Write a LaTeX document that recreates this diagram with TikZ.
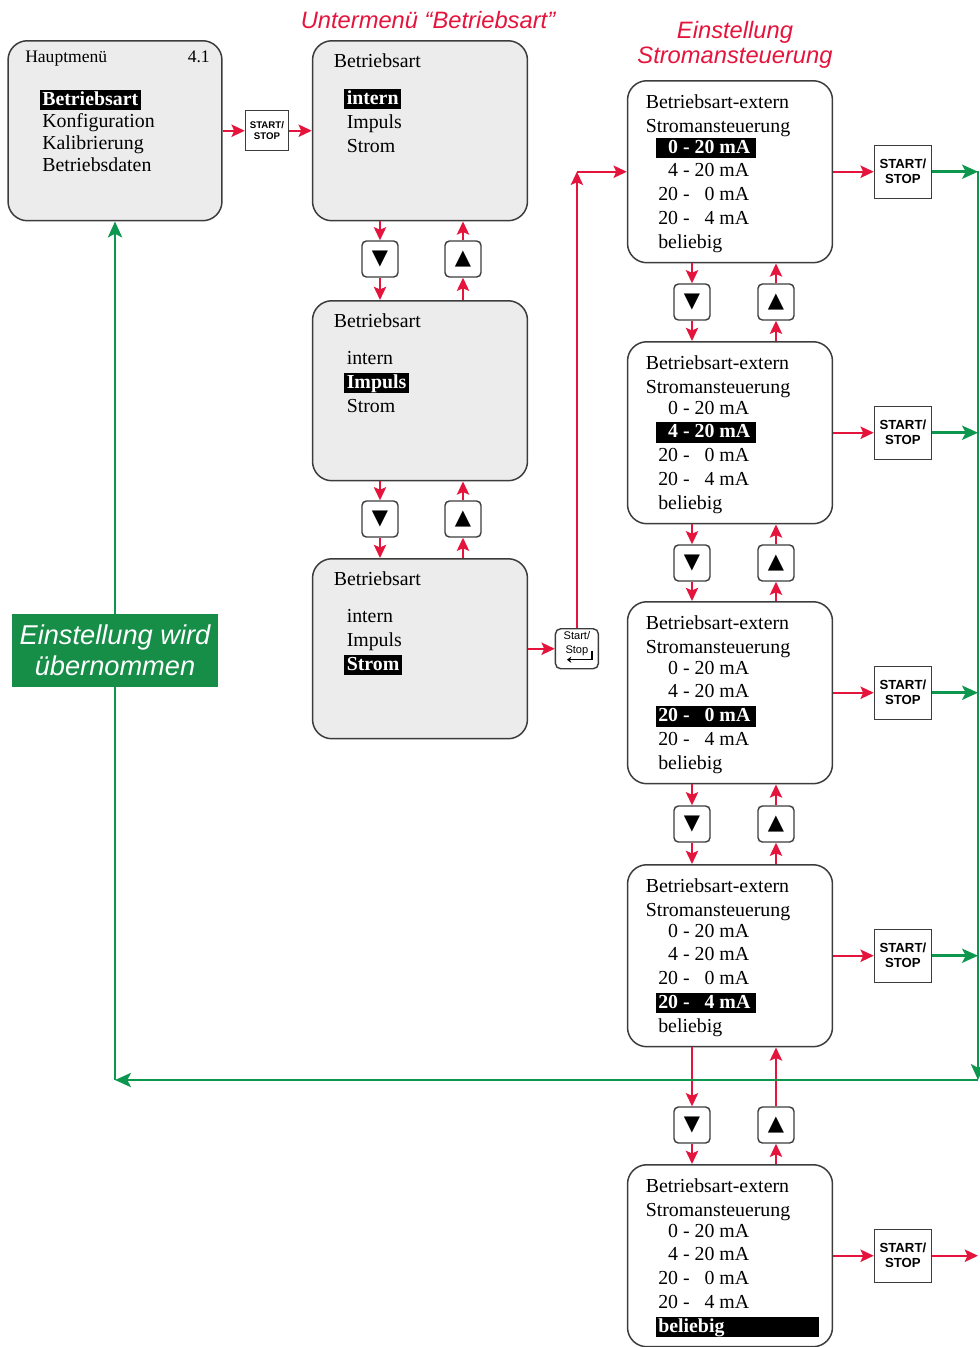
\documentclass[tikz,border=0pt]{standalone}
\usepackage{fontspec}
\setmainfont{Liberation Serif}
\setsansfont{Liberation Sans}
\newfontfamily\symfont{DejaVu Sans}
\usetikzlibrary{positioning,calc}
\usetikzlibrary{arrows.meta}
\definecolor{KeyRed}{RGB}{228,20,60}
\definecolor{OkGreen}{RGB}{12,150,78}
\definecolor{NoteGreen}{RGB}{22,142,72}
\definecolor{MenuGray}{RGB}{236,236,236}
\definecolor{EdgeGray}{RGB}{60,60,60}
\tikzset{
	menubox/.style={draw=EdgeGray,line width=0.85pt,rounded corners=11pt,fill=MenuGray,
		minimum width=4.3cm,minimum height=3.6cm,anchor=north},
	curbox/.style={menubox,fill=white,minimum width=4.1cm,minimum height=3.64cm},
	txt/.style={anchor=base west,inner xsep=1.5pt,inner ysep=0.8pt,font=\fontsize{11.3}{13}\selectfont},
	hltxt/.style={txt,fill=black,text=white,text height=8.2pt,text depth=2.3pt,inner ysep=0.6pt,
		font=\fontsize{11.3}{13}\selectfont\bfseries},
	key/.style={draw=EdgeGray,line width=0.8pt,rounded corners=2.5pt,fill=white,minimum size=0.72cm,
		inner sep=0pt,font=\symfont\fontsize{12}{12}\selectfont},
	ssbox/.style={draw=EdgeGray,line width=0.8pt,fill=white,minimum width=1.14cm,minimum height=1.06cm,
		inner sep=0pt,align=center,font=\sffamily\bfseries\fontsize{7.5}{8.5}\selectfont},
	title/.style={text=KeyRed,align=center,font=\sffamily\itshape\fontsize{13.5}{14.2}\selectfont},
	note/.style={fill=NoteGreen,text=white,align=center,minimum width=4.12cm,minimum height=1.46cm,
		inner sep=0pt,font=\sffamily\itshape\fontsize{15.5}{17.6}\selectfont},
	redarr/.style={draw=KeyRed,line width=1.2pt,-{Stealth[length=7.5pt,width=7pt,inset=1.5pt]}},
	greenarr/.style={draw=OkGreen,line width=1.6pt,-{Stealth[length=9pt,width=8pt,inset=2pt]}},
	greenline/.style={draw=OkGreen,line width=1.6pt},
}
\begin{document}
\begin{tikzpicture}[x=0.02cm,y=-0.02cm]
	\useasboundingbox (0,0) rectangle (980,1347);
	\node[title] (subtitle) at (428,20) {Untermenü “Betriebsart”};
	\node[title] (curtitle) at (735,45) {Einstellung\\Stromansteuerung};
	% Hauptmenue
	\node[menubox,minimum width=4.28cm] (main) at (115,40) {};
	\node[txt,font=\fontsize{10}{12}\selectfont] (main-h) at ($(main.north west)+(15,22)$) {Hauptmenü};
	\node[txt,anchor=base east,font=\fontsize{10}{12}\selectfont] (main-v) at ($(main.north east)+(-10,22)$) {4.1};
	\node[hltxt] (main-1) at ($(main.north west)+(32,65)$) {Betriebsart};
	\node[txt] (main-2) at ($(main.north west)+(32,87)$) {Konfiguration};
	\node[txt] (main-3) at ($(main.north west)+(32,109)$) {Kalibrierung};
	\node[txt] (main-4) at ($(main.north west)+(32,131)$) {Betriebsdaten};
	\node[ssbox,minimum width=0.86cm,minimum height=0.8cm,font=\sffamily\bfseries\fontsize{5.5}{6.2}\selectfont,
		right=0.44cm of main] (ss0) {START/\\STOP};
	% Untermenue
	\foreach \n/\top in {1/40,2/300,3/558}
		\node[menubox] (sub\n) at (420,\top) {};
	\foreach \n/\a/\b/\c in {1/hltxt/txt/txt,2/txt/hltxt/txt,3/txt/txt/hltxt} {
		\node[txt] (sub\n-h) at ($(sub\n.north west)+(19,27)$) {Betriebsart};
		\node[\a] (sub\n-1) at ($(sub\n.north west)+(32,64)$) {intern};
		\node[\b] (sub\n-2) at ($(sub\n.north west)+(32,88)$) {Impuls};
		\node[\c] (sub\n-3) at ($(sub\n.north west)+(32,112)$) {Strom};
	}
	\node[key,minimum width=0.86cm,minimum height=0.8cm,rounded corners=3pt,right=0.53cm of sub3] (enter) {};
	\node[inner sep=0pt,align=center,font=\sffamily\fontsize{6.3}{8}\selectfont] (enter-t) at ($(enter.center)+(0,-5)$) {Start/\\Stop};
	\draw[line width=0.8pt,-{Stealth[length=2.5pt,width=3.5pt]}] ($(enter.center)+(15,2)$) -- ++(0,9) -- ++(-25,0);
	% Stromansteuerung
	\foreach \n/\top in {A/80,B/341,C/601,D/864,E/1164}
		\node[curbox] (cur\n) at (730,\top) {};
	\foreach \n/\k/\w in {A/1/1.91,B/2/1.91,C/3/1.91,D/4/1.91,E/5/3.17} {
		\node[txt] (cur\n-h) at ($(cur\n.north west)+(16,28)$) {Betriebsart-extern};
		\node[txt] (cur\n-s) at ($(cur\n.north west)+(16,52)$) {Stromansteuerung};
		\foreach \t [count=\i] in {{\phantom{2}0 - 20 mA},{\phantom{2}4 - 20 mA},{20 - \phantom{2}0 mA},{20 - \phantom{2}4 mA},beliebig} {
			\ifnum\i=\k \def\sty{hltxt}\else\def\sty{txt}\fi
			\node[\sty] (cur\n-\i) at ($(cur\n.north west)+(28.5,{49.25+23.75*\i})$) {\makebox[\w cm][l]{\t}};
		}
		\node[ssbox,right=0.81cm of cur\n] (ss\n) {START/\\STOP};
		\draw[redarr] (cur\n.east) -- (ss\n.west);
	}
	% Tasten
	\foreach \k/\xd/\xu/\y in {1/380/463/259,2/380/463/519,3/692/776/302,4/692/776/563,5/692/776/824,6/692/776/1125} {
		\node[key] (dn\k) at (\xd,\y) {▼};
		\node[key] (up\k) at (\xu,\y) {▲};
	}
	\foreach \u/\l/\k in {sub1/sub2/1,sub2/sub3/2,curA/curB/3,curB/curC/4,curC/curD/5,curD/curE/6} {
		\draw[redarr] (dn\k.north |- \u.south) -- (dn\k.north);
		\draw[redarr] (dn\k.south) -- (dn\k.south |- \l.north);
		\draw[redarr] (up\k.south |- \l.north) -- (up\k.south);
		\draw[redarr] (up\k.north) -- (up\k.north |- \u.south);
	}
	\draw[redarr] (main.east) -- (ss0.west);
	\draw[redarr] (ss0.east) -- (ss0.east -| sub1.west);
	\draw[redarr] (sub3.east) -- (enter.west);
	\coordinate (turn) at (enter.north |- curA.west);
	\draw[redarr] (enter.north) -- (turn);
	\draw[redarr] (turn) -- (curA.west);
	% Rueckweg
	\node[note] (note) at (115,650.5) {Einstellung wird\\übernommen};
	\coordinate (railtop) at (978,171);
	\coordinate (railbot) at (978,1080);
	\coordinate (back) at (115,1080);
	\foreach \n in {A,B,C,D}
		\draw[greenarr] (ss\n.east) -- (ss\n.east -| railtop);
	\draw[redarr] (ssE.east) -- (ssE.east -| railtop);
	\draw[greenarr] (railtop) -- (railbot);
	\draw[greenarr] (railbot) -- (back);
	\draw[greenline] (back) -- (note.south);
	\draw[greenarr] (note.north) -- (main.south);
\end{tikzpicture}
\end{document}
